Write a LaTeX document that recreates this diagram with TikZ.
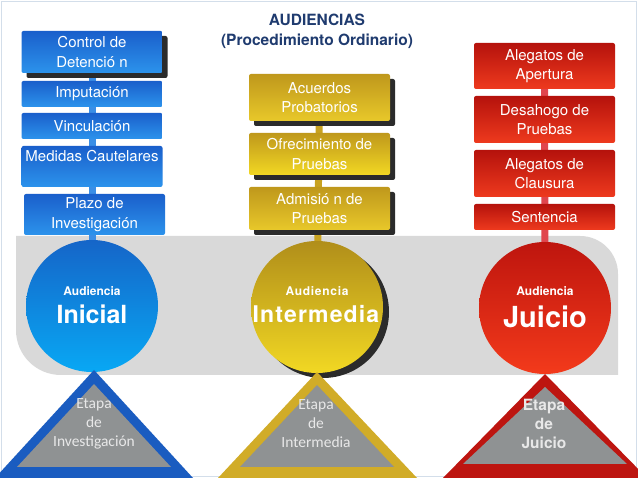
\documentclass[tikz,border=0pt]{standalone}
\usepackage{fontspec}
\setmainfont{TeX Gyre Heros}
\newfontfamily\calib{Carlito}
\usetikzlibrary{shadows}
\pgfdeclarelayer{back}
\pgfdeclarelayer{bg}
\pgfsetlayers{back,bg,main}
\definecolor{bandgray}{HTML}{D9D9D9}
\definecolor{navy}{HTML}{1F3B6F}
\definecolor{bbtop}{HTML}{1A5FCB}
\definecolor{bbbot}{HTML}{2C93EC}
\definecolor{bctop}{HTML}{1565C8}
\definecolor{bcbot}{HTML}{08A8F4}
\definecolor{bconn}{HTML}{3A8EE6}
\definecolor{btri}{HTML}{1A5CC0}
\definecolor{gbtop}{HTML}{BF981C}
\definecolor{gbbot}{HTML}{E8C82A}
\definecolor{gctop}{HTML}{B08E1A}
\definecolor{gcbot}{HTML}{F2D823}
\definecolor{gconn}{HTML}{C8A220}
\definecolor{gtri}{HTML}{D1AC28}
\definecolor{rbtop}{HTML}{B5120C}
\definecolor{rbbot}{HTML}{EE3A1E}
\definecolor{rctop}{HTML}{BE150E}
\definecolor{rcbot}{HTML}{F33A1B}
\definecolor{rconn}{HTML}{E0464E}
\definecolor{rtri}{HTML}{BD1510}
\definecolor{trigray}{HTML}{8F9293}
\definecolor{shadowc}{HTML}{2B2B2B}
\definecolor{tritext}{HTML}{E8E8E8}
\definecolor{framec}{HTML}{D3DEEA}
\tikzset{
  box/.style={rectangle, rounded corners=2pt, align=center, text=white,
    font=\fontsize{15}{19.5}\selectfont, inner sep=0pt, minimum width=141pt},
  bluebox/.style={box, top color=bbtop, bottom color=bbbot},
  goldbox/.style={box, top color=gbtop, bottom color=gbbot},
  redbox/.style={box, top color=rbtop, bottom color=rbbot},
  hardshadow/.style={general shadow={fill=shadowc, shadow xshift=5pt, shadow yshift=-5pt}},
  bigcircle/.style={circle, minimum size=132pt, inner sep=0pt},
  conn/.style={line width=7pt},
  smalltxt/.style={text=white, font=\fontsize{12}{14}\selectfont\bfseries, inner sep=0pt},
  tritxt/.style={text=tritext, align=center, inner sep=0pt},
  titletxt/.style={text=navy, font=\fontsize{15.5}{19}\selectfont\bfseries, inner sep=0pt}
}
\begin{document}
\begin{tikzpicture}[x=1pt,y=-1pt]
\useasboundingbox (0,0) rectangle (638,478);

% background and gray band
\begin{pgfonlayer}{back}
\fill[white] (0,0) rectangle (638,478);
\draw[framec, line width=1pt] (1.5,1.5) rectangle (636.5,476.5);
\fill[bandgray] (16,236) -- (580,236) .. controls (601,236) and (618,253) .. (618,274)
  -- (618,375) -- (61,375) .. controls (36,375) and (16,355) .. (16,330) -- cycle;
\end{pgfonlayer}

% title
\node[titletxt] (t1) at (317,20) {AUDIENCIAS};
\node[titletxt] (t2) at (317,41) {(Procedimiento Ordinario)};

% blue column
\node[bluebox, hardshadow, minimum height=42pt] (b1) at (92,52) {Control de\\Detenció n};
\node[bluebox, minimum height=26pt] (b2) at (92,94) {Imputación};
\node[bluebox, minimum height=26pt] (b3) at (92,126) {Vinculación};
\node[bluebox, minimum height=41pt, text depth=20pt, text height=11pt] (b4) at (92,166.5) {Medidas Cautelares};
\node[bluebox, minimum height=41pt] (b5) at (94.5,214.5) {Plazo de\\Investigación};
\node[bigcircle, top color=bctop, bottom color=bcbot] (c1) at (92,306) {};
\node[smalltxt] (c1a) at (92,291) {Audiencia};
\node[text=white, font=\fontsize{25}{28}\selectfont\bfseries, inner sep=0pt] (c1b) at (92,314) {Inicial};

% gold column
\node[goldbox, hardshadow, minimum height=47pt] (g1) at (319.5,97.5) {Acuerdos\\Probatorios};
\node[goldbox, hardshadow, minimum height=42pt, bottom color=gcbot] (g2) at (319.5,154) {Ofrecimiento de\\Pruebas};
\node[goldbox, hardshadow, minimum height=43pt] (g3) at (319.5,208.5) {Admisió n de\\Pruebas};
\node[bigcircle, top color=gctop, bottom color=gcbot,
  general shadow={fill=shadowc, shadow xshift=6pt, shadow yshift=-5pt}] (c2) at (317,307) {};
\node[smalltxt, font=\fontsize{12}{14}\selectfont\bfseries\addfontfeature{LetterSpace=6}] (c2a) at (317,291) {Audiencia};
\node[text=white, font=\fontsize{23}{26}\selectfont\bfseries\addfontfeature{LetterSpace=5}, inner sep=0pt] (c2b) at (316,314) {Intermedia};

% red column
\node[redbox, minimum height=46pt] (r1) at (544.5,66) {Alegatos de\\Apertura};
\node[redbox, minimum height=47pt] (r2) at (544.5,119.5) {Desahogo de\\Pruebas};
\node[redbox, minimum height=47pt] (r3) at (544.5,173.5) {Alegatos de\\Clausura};
\node[redbox, minimum height=26pt] (r4) at (544.5,217) {Sentencia};
\node[bigcircle, top color=rctop, bottom color=rcbot] (c3) at (545,308) {};
\node[smalltxt] (c3a) at (545,291) {Audiencia};
\node[text=white, font=\fontsize{29}{32}\selectfont\bfseries, inner sep=0pt] (c3b) at (545,317) {Juicio};

% connectors
\begin{pgfonlayer}{bg}
\draw[conn, bconn] (b1.center) -- (c1.center);
\draw[conn, gconn] (g1.center) -- (c2.center);
\draw[conn, rconn] (r1.center) -- (c3.center);
\end{pgfonlayer}

% triangles
\fill[btri] (94,370) -- (-5,478) -- (193,478) -- cycle;
\fill[trigray] (94,384) -- (17,467) -- (171,467) -- cycle;
\fill[gtri] (317,372) -- (218,478) -- (417,478) -- cycle;
\fill[trigray] (317,385) -- (240,467) -- (394,467) -- cycle;
\fill[rtri] (545,374) -- (443,478) -- (647,478) -- cycle;
\fill[trigray] (545,387) -- (463,464) -- (627,464) -- cycle;

\node[tritxt, font=\calib\fontsize{15.5}{19}\selectfont] (e1) at (94,424) {Etapa\\de\\Investigación};
\node[tritxt, font=\calib\fontsize{15.5}{19}\selectfont] (e2) at (316,424) {Etapa\\de\\Intermedia};
\node[tritxt, font=\fontsize{15.5}{19}\selectfont\bfseries] (e3) at (544,424) {Etapa\\de\\Juicio};
\end{tikzpicture}
\end{document}
